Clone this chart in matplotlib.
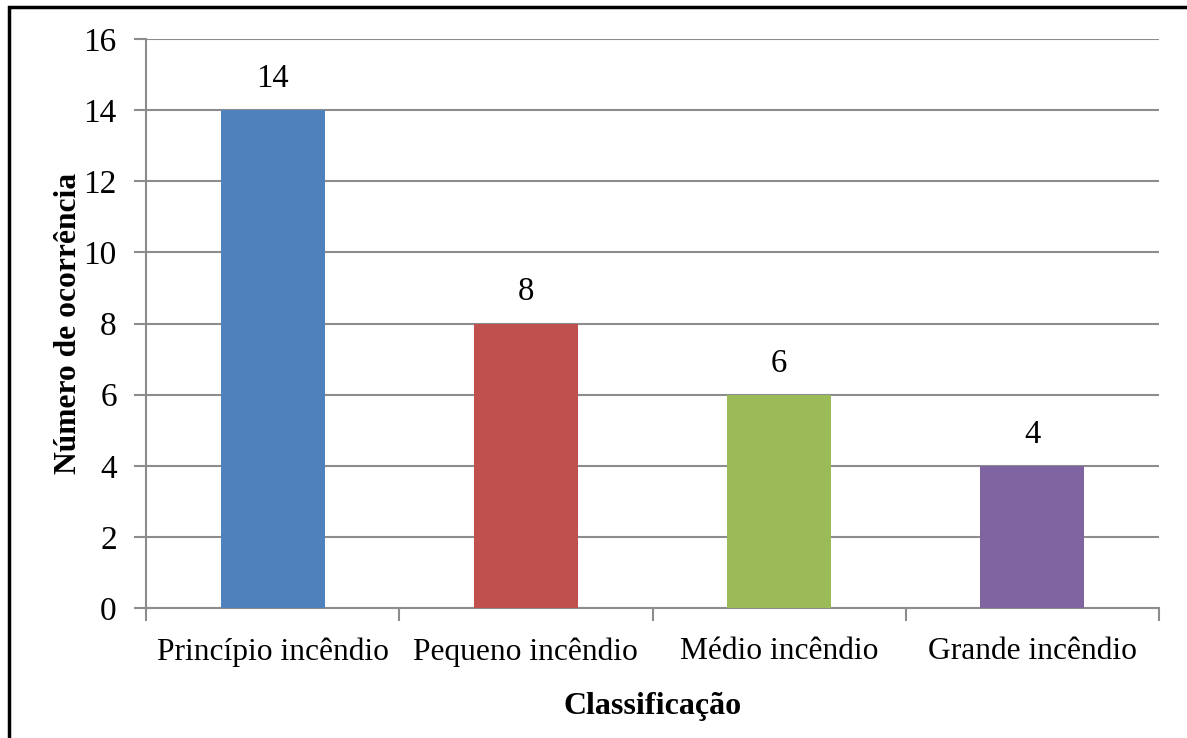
import matplotlib.pyplot as plt
from matplotlib.patches import Rectangle

categorias = ['Princípio incêndio', 'Pequeno incêndio', 'Médio incêndio', 'Grande incêndio']
ocorrencias = [14, 8, 6, 4]
cores = ['#4F81BD', '#C0504D', '#9BBB59', '#8064A2']

plt.rcParams['font.family'] = ['Liberation Serif', 'DejaVu Serif']

fig = plt.figure(figsize=(11.87, 7.38), dpi=100)
ax = fig.add_axes([146 / 1187, 1 - 608 / 738, (1159 - 146) / 1187, (608 - 39) / 738])

x = range(len(categorias))
bars = ax.bar(x, ocorrencias, width=0.41, color=cores, zorder=3)
for b, v in zip(bars, ocorrencias):
    ax.text(b.get_x() + b.get_width() / 2, v + 0.45, f'{v}', ha='center', va='bottom',
            fontsize=23.5, color='black')

ax.set_xlim(-0.5, len(categorias) - 0.5)
ax.set_ylim(0, 16)
ax.set_yticks(range(0, 17, 2))
ax.set_xticks(x)
ax.set_xticklabels(categorias)
ax.set_xticks([i + 0.5 for i in range(-1, len(categorias))], minor=True)
ax.tick_params(axis='x', which='major', length=0, pad=21, labelsize=22.7)
ax.tick_params(axis='x', which='minor', length=9, width=1.5, color='#8C8C8C')
ax.tick_params(axis='y', length=9, width=1.5, color='#8C8C8C', pad=12, labelsize=24)
ax.grid(axis='y', color='#8C8C8C', linewidth=1.5, zorder=0)

for s in ['top', 'right']:
    ax.spines[s].set_visible(False)
for s in ['left', 'bottom']:
    ax.spines[s].set_color('#8C8C8C')
    ax.spines[s].set_linewidth(1.5)

ax.set_xlabel('Classificação', fontsize=23, fontweight='bold', labelpad=18)
ax.set_ylabel('Número de ocorrência', fontsize=22.7, fontweight='bold', labelpad=0)

# moldura externa
fig.patches.append(Rectangle((9 / 1187, -0.05), 1.1, 1 - 7 / 738 + 0.05,
                             transform=fig.transFigure, fill=False,
                             edgecolor='black', linewidth=2.5))

fig.savefig('out.png', dpi=100)
